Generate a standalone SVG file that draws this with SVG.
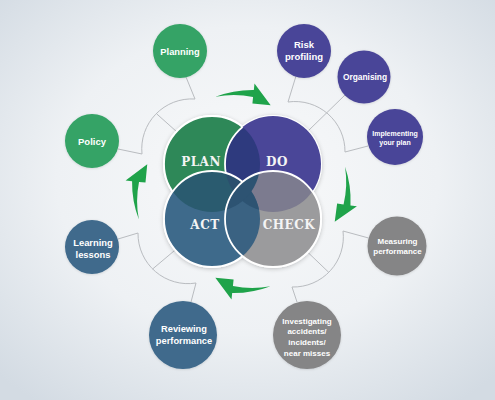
<svg xmlns="http://www.w3.org/2000/svg" width="495" height="400" viewBox="0 0 495 400">
<defs>
  <radialGradient id="bg" cx="0.5" cy="0.45" r="0.7">
    <stop offset="0" stop-color="#f8f9fa"/>
    <stop offset="0.55" stop-color="#eef1f4"/>
    <stop offset="1" stop-color="#d3dbe3"/>
  </radialGradient>
  <filter id="sh" x="-20%" y="-20%" width="140%" height="140%">
    <feDropShadow dx="0" dy="1" stdDeviation="2" flood-color="#000" flood-opacity="0.22"/>
  </filter>
  <filter id="sh2" x="-20%" y="-20%" width="140%" height="140%">
    <feDropShadow dx="0" dy="0.5" stdDeviation="1" flood-color="#000" flood-opacity="0.15"/>
  </filter>
  <clipPath id="cPlan"><circle cx="212" cy="164" r="48"/></clipPath>
  <clipPath id="cDo"><circle cx="273" cy="164" r="48"/></clipPath>
  <clipPath id="cAct"><circle cx="212" cy="219" r="48"/></clipPath>
  <clipPath id="cCheck"><circle cx="273" cy="219" r="48"/></clipPath>
  <path id="arw" d="M-27.56,-96.13 A103.5,103.5 0 0 1 10.82,-102.93 L11.50,-109.40 L27.66,-87.74 L9.41,-89.51 L10.08,-95.97 A96.5,96.5 0 0 0 -27.56,-96.13 Z"/>
  <style>
    .ln{fill:none;stroke:#b9bcc0;stroke-width:1}
    .arrow{fill:#1fa34a}
    .lbl{font-family:"Liberation Sans",Arial,sans-serif;font-weight:bold;fill:#ffffff;text-anchor:middle}
    .big{font-family:"DejaVu Serif","Liberation Serif",serif;font-weight:bold;fill:#f4f4f4;text-anchor:middle;font-size:12px;letter-spacing:0.5px}
    .ring{fill:none;stroke:#ffffff;stroke-width:1.8}
    .green{fill:#34a366}
    .purple{fill:#4a4598}
    .blue{fill:#3f6a8c}
    .gray{fill:#858586}
  </style>
</defs>
<rect width="495" height="400" fill="url(#bg)"/>

<g id="connectors">
  <path class="ln" d="M195,99 A50,50 0 0 0 142,154"/>
  <path class="ln" d="M186,77 L195,99"/>
  <path class="ln" d="M118,149 L142,154"/>
  <path class="ln" d="M156.3,113.5 L177,132"/>
  <path class="ln" d="M288,102 A50,50 0 0 1 345,152"/>
  <path class="ln" d="M296,76 L288,102"/>
  <path class="ln" d="M345,95 L308,131"/>
  <path class="ln" d="M345,152 L368,146"/>
  <path class="ln" d="M343,231 A50,50 0 0 1 292,287"/>
  <path class="ln" d="M343,231 L368.6,238"/>
  <path class="ln" d="M292,287 L297,302"/>
  <path class="ln" d="M328.8,272.4 L307.7,252.2"/>
  <path class="ln" d="M138,233 A50,50 0 0 0 196,283"/>
  <path class="ln" d="M118,239 L138,233"/>
  <path class="ln" d="M196,283 L191,302"/>
  <path class="ln" d="M152.6,269 L175.3,249.9"/>
</g>

<g id="cycle-arrows">
  <use href="#arw" class="arrow" transform="translate(243,193)"/>
  <use href="#arw" class="arrow" transform="translate(248,191) rotate(92)"/>
  <use href="#arw" class="arrow" transform="translate(243,190) rotate(180)"/>
  <use href="#arw" class="arrow" transform="translate(235,192) rotate(270)"/>
</g>

<g id="pdca" >
  <g filter="url(#sh)">
    <circle cx="212" cy="164" r="49" fill="#ffffff"/>
    <circle cx="273" cy="164" r="49" fill="#ffffff"/>
    <circle cx="212" cy="219" r="49" fill="#ffffff"/>
    <circle cx="273" cy="219" r="49" fill="#ffffff"/>
  </g>
  <g id="plan">
    <circle cx="212" cy="164" r="48" fill="#2e8858"/>
    <circle class="ring" cx="212" cy="164" r="48"/>
  </g>
  <g id="do">
    <circle cx="273" cy="164" r="48" fill="#4a4698"/>
    <circle cx="273" cy="164" r="48" fill="#2e3a7e" clip-path="url(#cPlan)"/>
    <circle class="ring" cx="273" cy="164" r="48" clip-path="url(#cPlan)"/>
  </g>
  <g id="act">
    <circle cx="212" cy="219" r="48" fill="#3e6a8b"/>
    <circle cx="212" cy="219" r="48" fill="#2a5b6f" clip-path="url(#cPlan)"/>
    <circle cx="212" cy="219" r="48" fill="#2b4f6e" clip-path="url(#cDo)"/>
    <circle class="ring" cx="212" cy="219" r="48"/>
  </g>
  <g id="check">
    <circle cx="273" cy="219" r="48" fill="#9b9b9d"/>
    <circle cx="273" cy="219" r="48" fill="#7c7b8f" clip-path="url(#cDo)"/>
    <circle cx="273" cy="219" r="48" fill="#3a6282" clip-path="url(#cAct)"/>
    <g clip-path="url(#cCheck)">
      <circle cx="212" cy="219" r="48" fill="#2d5372" clip-path="url(#cDo)"/>
    </g>
    <circle cx="273" cy="219" r="48" fill="#2d5372" clip-path="url(#cPlan)"/>
    <circle class="ring" cx="273" cy="219" r="48"/>
  </g>
  <text class="big" x="201" y="166">PLAN</text>
  <text class="big" x="277" y="166">DO</text>
  <text class="big" x="205" y="229">ACT</text>
  <text class="big" x="289" y="229">CHECK</text>
</g>

<g id="node-planning">
  <circle class="green" cx="180" cy="51" r="27" filter="url(#sh2)"/>
  <text class="lbl" x="180" y="55" font-size="9.3">Planning</text>
</g>
<g id="node-policy">
  <circle class="green" cx="92" cy="141" r="27" filter="url(#sh2)"/>
  <text class="lbl" x="92" y="145" font-size="9.5">Policy</text>
</g>
<g id="node-risk">
  <circle class="purple" cx="304" cy="51" r="27" filter="url(#sh2)"/>
  <text class="lbl" x="304" y="48" font-size="9.5">Risk</text>
  <text class="lbl" x="304" y="60" font-size="9.5">profiling</text>
</g>
<g id="node-organising">
  <circle class="purple" cx="364" cy="77" r="26.5" filter="url(#sh2)"/>
  <text class="lbl" x="365" y="80" font-size="8.4">Organising</text>
</g>
<g id="node-implementing">
  <circle class="purple" cx="395" cy="137" r="28" filter="url(#sh2)"/>
  <text class="lbl" x="395" y="135.5" font-size="7">Implementing</text>
  <text class="lbl" x="395" y="145" font-size="7">your plan</text>
</g>
<g id="node-learning">
  <circle class="blue" cx="92" cy="247" r="27" filter="url(#sh2)"/>
  <text class="lbl" x="93" y="246" font-size="9.4">Learning</text>
  <text class="lbl" x="93" y="258" font-size="9.4">lessons</text>
</g>
<g id="node-reviewing">
  <circle class="blue" cx="183" cy="335" r="34" filter="url(#sh2)"/>
  <text class="lbl" x="184" y="331.5" font-size="9.3">Reviewing</text>
  <text class="lbl" x="184" y="344" font-size="9.3">performance</text>
</g>
<g id="node-measuring">
  <circle class="gray" cx="397" cy="246" r="29.5" filter="url(#sh2)"/>
  <text class="lbl" x="397.5" y="243.5" font-size="8">Measuring</text>
  <text class="lbl" x="397.5" y="254" font-size="8">performance</text>
</g>
<g id="node-investigating">
  <circle class="gray" cx="307" cy="335" r="34" filter="url(#sh2)"/>
  <text class="lbl" x="307" y="323.5" font-size="8">Investigating</text>
  <text class="lbl" x="307" y="334" font-size="8">accidents/</text>
  <text class="lbl" x="307" y="345" font-size="8">incidents/</text>
  <text class="lbl" x="307" y="355.5" font-size="8">near misses</text>
</g>
</svg>
